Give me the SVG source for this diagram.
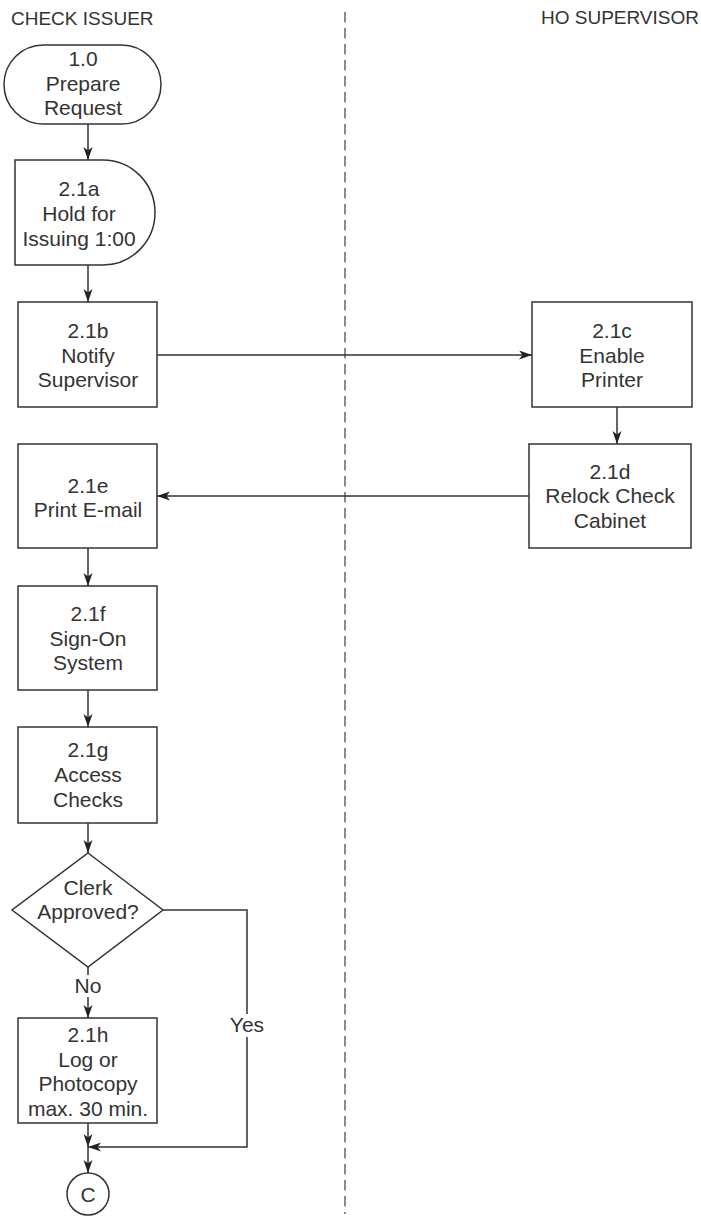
<svg xmlns="http://www.w3.org/2000/svg" width="701" height="1229" viewBox="0 0 701 1229">
<style>
.shape{fill:#fff;stroke:#333;stroke-width:1.5}
.t{font-family:"Liberation Sans",Arial,sans-serif;font-size:21px;fill:#333;text-anchor:middle}
.h{font-family:"Liberation Sans",Arial,sans-serif;font-size:19px;fill:#333}
.c{fill:none;stroke:#333;stroke-width:1.5}
.lane{fill:none;stroke:#666;stroke-width:1.5;stroke-dasharray:10.5 5.5}
</style>
<defs>
<marker id="arr" markerUnits="userSpaceOnUse" markerWidth="14" markerHeight="10" refX="13" refY="4.5" orient="auto">
<path d="M0,0 L13,4.5 L0,9 L3.5,4.5 Z" fill="#222"/>
</marker>
</defs>
<rect width="701" height="1229" fill="#fff"/>
<text class="h" x="11" y="25">CHECK ISSUER</text>
<text class="h" x="699" y="24" text-anchor="end">HO SUPERVISOR</text>
<line class="lane" x1="345" y1="12" x2="345" y2="1214"/>

<g id="connectors">
<path class="c" d="M88,124 V160" marker-end="url(#arr)"/>
<path class="c" d="M88,265 V302" marker-end="url(#arr)"/>
<path class="c" d="M157,355 H532" marker-end="url(#arr)"/>
<path class="c" d="M617,407 V444" marker-end="url(#arr)"/>
<path class="c" d="M529,496 H157" marker-end="url(#arr)"/>
<path class="c" d="M88,548 V586" marker-end="url(#arr)"/>
<path class="c" d="M88,690 V727" marker-end="url(#arr)"/>
<path class="c" d="M88,823 V853" marker-end="url(#arr)"/>
<path class="c" d="M88,967 V975"/>
<path class="c" d="M88,997 V1018" marker-end="url(#arr)"/>
<text class="t" x="88" y="993">No</text>
<path class="c" d="M163,910 H247 V1014"/>
<path class="c" d="M247,1037 V1147 H88" marker-end="url(#arr)"/>
<text class="t" x="247" y="1032">Yes</text>
<path class="c" d="M88,1123 V1147" marker-end="url(#arr)"/>
<path class="c" d="M88,1147 V1173" marker-end="url(#arr)"/>
</g>

<g id="n1_0">
<rect class="shape" x="4" y="45" width="157" height="79" rx="39.5" ry="39.5"/>
<text class="t" x="83" y="66">1.0</text>
<text class="t" x="83" y="90.5">Prepare</text>
<text class="t" x="83" y="115">Request</text>
</g>
<g id="n2_1a">
<path class="shape" d="M15,160 H103 A52,52.5 0 0 1 103,265 H15 Z"/>
<text class="t" x="79" y="196">2.1a</text>
<text class="t" x="79" y="221">Hold for</text>
<text class="t" x="79" y="246">Issuing 1:00</text>
</g>
<g id="n2_1b">
<rect class="shape" x="18" y="302" width="139" height="105"/>
<text class="t" x="88" y="338">2.1b</text>
<text class="t" x="88" y="362.5">Notify</text>
<text class="t" x="88" y="387">Supervisor</text>
</g>
<g id="n2_1c">
<rect class="shape" x="532" y="302" width="160" height="105"/>
<text class="t" x="612" y="338">2.1c</text>
<text class="t" x="612" y="362.5">Enable</text>
<text class="t" x="612" y="387">Printer</text>
</g>
<g id="n2_1d">
<rect class="shape" x="529" y="444" width="162" height="104"/>
<text class="t" x="610" y="478.5">2.1d</text>
<text class="t" x="610" y="503">Relock Check</text>
<text class="t" x="610" y="527.5">Cabinet</text>
</g>
<g id="n2_1e">
<rect class="shape" x="18" y="444" width="139" height="104"/>
<text class="t" x="88" y="493">2.1e</text>
<text class="t" x="88" y="517">Print E-mail</text>
</g>
<g id="n2_1f">
<rect class="shape" x="18" y="586" width="139" height="104"/>
<text class="t" x="88" y="621">2.1f</text>
<text class="t" x="88" y="645.5">Sign-On</text>
<text class="t" x="88" y="670">System</text>
</g>
<g id="n2_1g">
<rect class="shape" x="18" y="727" width="139" height="96"/>
<text class="t" x="88" y="757">2.1g</text>
<text class="t" x="88" y="782">Access</text>
<text class="t" x="88" y="807">Checks</text>
</g>
<g id="decision">
<polygon class="shape" points="88,853 163,910 88,967 12,910"/>
<text class="t" x="88" y="895">Clerk</text>
<text class="t" x="88" y="919">Approved?</text>
</g>
<g id="n2_1h">
<rect class="shape" x="18" y="1018" width="139" height="105"/>
<text class="t" x="88" y="1042">2.1h</text>
<text class="t" x="88" y="1066.5">Log or</text>
<text class="t" x="88" y="1091">Photocopy</text>
<text class="t" x="88" y="1115.5">max. 30 min.</text>
</g>
<g id="connectorC">
<circle class="shape" cx="88" cy="1194" r="21"/>
<text class="t" x="88" y="1201.5">C</text>
</g>
</svg>
